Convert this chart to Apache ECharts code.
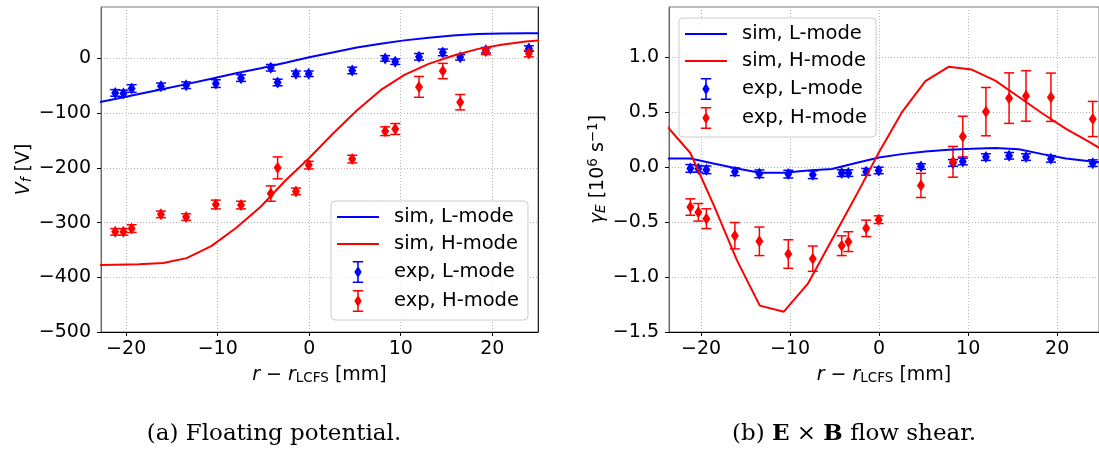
<!DOCTYPE html>
<html><head><meta charset="utf-8">
<script src="https://cdn.jsdelivr.net/npm/echarts@6/dist/echarts.min.js"></script>
<style>html,body{margin:0;padding:0;background:#fff;overflow:hidden}#c{width:1099px;height:449px}</style>
</head><body><div id="c"></div>
<script>
// ---- data ----
const expX   = [-21.2, -20.3, -19.4, -16.2, -13.45, -10.2, -7.45, -4.2, -3.45, -1.45, -0.05, 4.7, 8.3, 9.4, 12.0, 14.6, 16.5, 19.3, 24.0];
const vfExpL = [-63, -64, -55, -51, -49, -46, -36, -17, -44, -28, -28, -22, 0, -6, 3, 11, 2, 15, 18];
const vfErrL = [6, 6, 7, 6, 6, 7, 6, 6, 6, 5, 5, 6, 5, 5, 6, 6, 5, 5, 5];
const vfExpH = [-317, -317, -311, -285, -290, -267, -268, -247, -200, -243, -195, -184, -133, -129, -52, -23, -80, 13, 9];
const vfErrH = [6, 6, 7, 6, 6, 8, 7, 14, 20, 6, 7, 7, 8, 10, 19, 14, 14, 6, 6];
const gmExpL = [-0.01, -0.014, -0.023, -0.04, -0.059, -0.062, -0.068, -0.053, -0.053, -0.041, -0.029, 0.007, 0.04, 0.053, 0.093, 0.105, 0.093, 0.077, 0.038];
const gmErrL = [0.035, 0.03, 0.035, 0.035, 0.035, 0.035, 0.035, 0.03, 0.03, 0.03, 0.03, 0.025, 0.03, 0.03, 0.03, 0.03, 0.03, 0.03, 0.03];
const gmExpH = [-0.362, -0.41, -0.468, -0.623, -0.674, -0.79, -0.832, -0.714, -0.677, -0.556, -0.477, -0.165, 0.05, 0.28, 0.507, 0.63, 0.65, 0.638, 0.44];
const gmErrH = [0.075, 0.08, 0.09, 0.12, 0.13, 0.13, 0.115, 0.09, 0.09, 0.075, 0.035, 0.11, 0.14, 0.185, 0.22, 0.23, 0.23, 0.22, 0.16];

const simX   = [-23.9, -21.2, -18.6, -15.95, -13.4, -10.7, -8.0, -5.3, -2.6, 0.0, 2.55, 5.2, 7.8, 10.4, 13.05, 15.7, 18.35, 21.0, 23.65, 26.3];
const vfSimL = [-83, -74, -65, -56, -47, -37, -27, -18, -8, 2, 11, 20, 27, 33, 38, 42, 44.5, 45.5, 46, 46];
const vfSimH = [-378, -377, -376, -374, -365, -343, -310, -271, -223, -182, -138, -95, -58, -30, -10, 5, 17, 25, 31, 34];
const gmSimL = [0.08, 0.08, 0.035, -0.01, -0.05, -0.05, -0.03, -0.015, 0.04, 0.09, 0.12, 0.145, 0.16, 0.17, 0.175, 0.165, 0.12, 0.08, 0.055, 0.035];
const gmSimH = [0.38, 0.13, -0.34, -0.85, -1.26, -1.315, -1.06, -0.66, -0.26, 0.14, 0.5, 0.785, 0.915, 0.89, 0.79, 0.64, 0.49, 0.35, 0.23, 0.1];

const xTicks   = [-20, -10, 0, 10, 20];
const vfTicks  = [-500, -400, -300, -200, -100, 0];
const gmTicks  = [-1.5, -1.0, -0.5, 0.0, 0.5, 1.0];
const seriesNames = ['sim, L-mode', 'sim, H-mode', 'exp, L-mode', 'exp, H-mode'];

// ---- helpers ----
const BLUE = '#0000ff', RED = '#ff0000';
const FONT = 'DejaVu Sans';
const pairs = (xs, ys) => xs.map((x, i) => [x, ys[i]]);
const bars = (xs, ys, es) => xs.map((x, i) => [x, ys[i] - es[i], ys[i] + es[i]]);
const neg = s => String(s).replace('-', '\u2212');

function errSeries(xi, yi, data, color) {
  return {
    type: 'custom', name: 'err' + color, xAxisIndex: xi, yAxisIndex: yi, data: data, silent: true,
    encode: { x: 0, y: [1, 2] },
    renderItem: function (p, api) {
      const x = api.value(0), lo = api.value(1), hi = api.value(2);
      const a = api.coord([x, hi]), b = api.coord([x, lo]);
      const w = 5, st = { stroke: color, lineWidth: 1.5 };
      return { type: 'group', children: [
        { type: 'line', shape: { x1: a[0], y1: a[1], x2: b[0], y2: b[1] }, style: st },
        { type: 'line', shape: { x1: a[0] - w, y1: a[1], x2: a[0] + w, y2: a[1] }, style: st },
        { type: 'line', shape: { x1: b[0] - w, y1: b[1], x2: b[0] + w, y2: b[1] }, style: st }
      ]};
    }
  };
}
function lineSeries(name, xi, yi, xs, ys, color) {
  return { type: 'line', name: name, xAxisIndex: xi, yAxisIndex: yi, data: pairs(xs, ys),
    symbol: 'none', showSymbol: false, lineStyle: { color: color, width: 2 }, itemStyle: { color: color }, clip: true, silent: true };
}
function dotSeries(name, xi, yi, xs, ys, color) {
  return { type: 'scatter', name: name, xAxisIndex: xi, yAxisIndex: yi, data: pairs(xs, ys),
    symbol: 'diamond', symbolSize: [8, 12], itemStyle: { color: color, opacity: 1 }, silent: true };
}

const LINE_ICON = 'path://M0,0H42V2H0Z';
const EXP_ICON = 'path://M0,0H10V1.5H5.75V5.94L8.5,10.5L5.75,15.06V19.5H10V21H0V19.5H4.25V15.06L1.5,10.5L4.25,5.94V1.5H0Z';
function legend(left, top) {
  return {
    left: left, top: top, orient: 'vertical', itemWidth: 42, itemHeight: 22, itemGap: 7,
    padding: [6, 9, 8, 6], backgroundColor: 'rgba(255,255,255,0.8)', borderColor: '#cccccc', borderWidth: 1, borderRadius: 4,
    selectedMode: false,
    textStyle: { fontFamily: FONT, fontSize: 19.5, color: '#000', padding: [0, 0, 0, 10] },
    data: seriesNames.map((n, i) => ({ name: n, icon: i < 2 ? LINE_ICON : EXP_ICON }))
  };
}

const richBase = {
  i: { fontFamily: FONT, fontStyle: 'italic', fontSize: 19, lineHeight: 22, color: '#000' },
  s: { fontFamily: FONT, fontSize: 13.5, lineHeight: 14, padding: [8, 0, 0, 0], color: '#000' },
  si: { fontFamily: FONT, fontStyle: 'italic', fontSize: 13.5, lineHeight: 14, padding: [8, 0, 0, 0], color: '#000' },
  p: { fontFamily: FONT, fontSize: 13.5, lineHeight: 14, padding: [0, 0, 8, 0], color: '#000' }
};
const nameStyle = { fontFamily: FONT, fontSize: 19, lineHeight: 22, color: '#000', rich: richBase };

function xAx(gi, min, max) {
  return {
    type: 'value', gridIndex: gi, min: min, max: max, splitNumber: 5,
    axisLine: { onZero: false, lineStyle: { color: '#000', width: 1 } },
    axisTick: { length: 4, lineStyle: { color: '#000' }, customValues: xTicks },
    axisLabel: { margin: 8, fontFamily: FONT, fontSize: 19, color: '#000', customValues: xTicks,
      formatter: v => (Math.abs(v % 10) < 1e-6 ? neg(v) : '') },
    splitLine: { show: true, lineStyle: { color: '#b8b8b8', type: [1, 2], width: 1 } },
    name: '{i|r} \u2212 {i|r}{s|LCFS} [mm]', nameLocation: 'middle', nameGap: 31, nameTextStyle: nameStyle
  };
}

const option = {
  animation: false,
  grid: [
    { left: 101, top: 7, width: 437, height: 325, show: true, borderColor: '#777', borderWidth: 1, containLabel: false },
    { left: 669, top: 7, width: 437, height: 325, show: true, borderColor: '#777', borderWidth: 1, containLabel: false }
  ],
  xAxis: [ xAx(0, -22.75, 25), xAx(1, -23.6, 24.7) ],
  yAxis: [
    { type: 'value', gridIndex: 0, min: -500, max: 94, interval: 100,
      axisLine: { show: true, onZero: false, lineStyle: { color: '#666', width: 1 } },
      axisTick: { show: true, length: 4, lineStyle: { color: '#000' }, customValues: vfTicks },
      axisLabel: { margin: 10, fontFamily: FONT, fontSize: 19, color: '#000', customValues: vfTicks,
        formatter: v => (Math.abs(v % 100) < 1e-6 ? neg(v) : '') },
      splitLine: { show: true, lineStyle: { color: '#b8b8b8', type: [1, 2], width: 1 } },
      name: '{i|V}{si|f} [V]', nameLocation: 'middle', nameGap: 64, nameRotate: 90, nameTextStyle: nameStyle },
    { type: 'value', gridIndex: 1, min: -1.5, max: 1.46, interval: 0.5,
      axisLine: { show: true, onZero: false, lineStyle: { color: '#666', width: 1 } },
      axisTick: { show: true, length: 4, lineStyle: { color: '#000' }, customValues: gmTicks },
      axisLabel: { margin: 10, fontFamily: FONT, fontSize: 19, color: '#000', customValues: gmTicks,
        formatter: v => (Math.abs((v * 2) % 1) < 1e-6 && v <= 1.0001 ? neg(v.toFixed(1)) : '') },
      splitLine: { show: true, lineStyle: { color: '#b8b8b8', type: [1, 2], width: 1 } },
      name: '{i|\u03b3}{si|E} [10{p|6} s{p|\u22121}]', nameLocation: 'middle', nameGap: 55, nameRotate: 90, nameTextStyle: nameStyle },
    { type: 'value', gridIndex: 0, position: 'right', min: -500, max: 94,
      axisLine: { show: true, onZero: false, lineStyle: { color: '#222', width: 1 } },
      axisTick: { show: false }, axisLabel: { show: false }, splitLine: { show: false } }
  ],
  legend: [ legend(331, 201), legend(679, 18) ],
  series: [
    lineSeries(seriesNames[0], 0, 0, simX, vfSimL, BLUE),
    lineSeries(seriesNames[1], 0, 0, simX, vfSimH, RED),
    errSeries(0, 0, bars(expX, vfExpL, vfErrL), BLUE),
    dotSeries(seriesNames[2], 0, 0, expX, vfExpL, BLUE),
    errSeries(0, 0, bars(expX, vfExpH, vfErrH), RED),
    dotSeries(seriesNames[3], 0, 0, expX, vfExpH, RED),
    lineSeries(seriesNames[0], 1, 1, simX, gmSimL, BLUE),
    lineSeries(seriesNames[1], 1, 1, simX, gmSimH, RED),
    errSeries(1, 1, bars(expX, gmExpL, gmErrL), BLUE),
    dotSeries(seriesNames[2], 1, 1, expX, gmExpL, BLUE),
    errSeries(1, 1, bars(expX, gmExpH, gmErrH), RED),
    dotSeries(seriesNames[3], 1, 1, expX, gmExpH, RED)
  ],
  graphic: [
    { type: 'text', x: 274, y: 434, style: { text: '(a) Floating potential.', fontFamily: 'DejaVu Serif', fontSize: 23, fill: '#000',
      align: 'center', verticalAlign: 'middle', textAlign: 'center', textVerticalAlign: 'middle' } },
    { type: 'text', x: 854, y: 434, style: { text: '(b) {b|E} \u00d7 {b|B} flow shear.', fontFamily: 'DejaVu Serif', fontSize: 23, fill: '#000',
      rich: { b: { fontFamily: 'DejaVu Serif', fontSize: 23, fontWeight: 'bold' } },
      align: 'center', verticalAlign: 'middle', textAlign: 'center', textVerticalAlign: 'middle' } }
  ]
};
const chart = echarts.init(document.getElementById('c'), null, { renderer: 'canvas' });
chart.setOption(option);
</script></body></html>
